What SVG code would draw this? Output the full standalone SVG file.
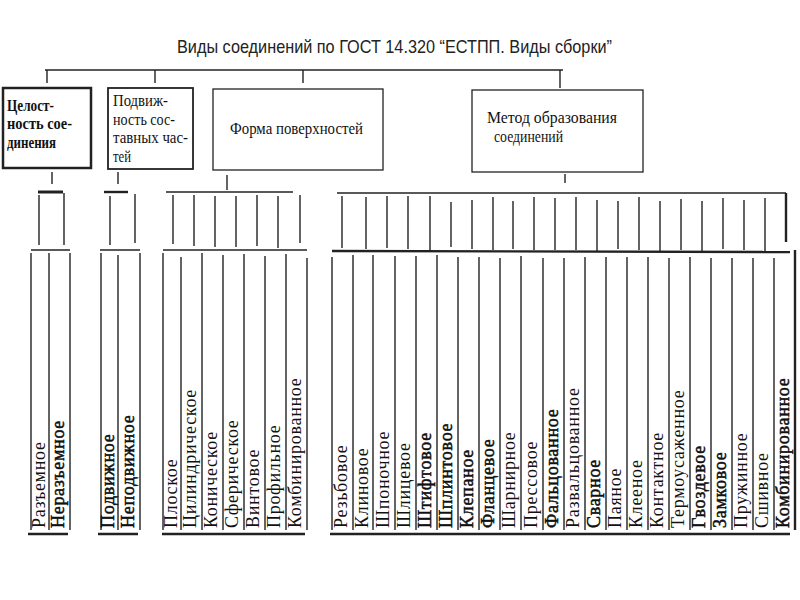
<svg xmlns="http://www.w3.org/2000/svg" width="800" height="600" viewBox="0 0 800 600">
<style>
.title{font-family:"Liberation Sans",Arial,sans-serif;font-size:19px;fill:#222}
.box{fill:none;stroke:#222}
.bt{font-family:"Liberation Serif","DejaVu Serif",serif;font-size:17px;fill:#111}
.bt1{font-family:"Liberation Serif","DejaVu Serif",serif;font-size:16px;font-weight:bold;fill:#111}
.leaf{font-family:"Liberation Serif","DejaVu Serif",serif;font-size:18px;letter-spacing:0.7px;fill:#111}
.b{stroke:#111;stroke-width:0.5px}
.c line{stroke:#222;stroke-width:1.4}
.c .thick{stroke-width:2.4}
.c .bar{stroke-width:3}
</style>
<rect width="800" height="600" fill="#fff"/>
<g id="title">
<text class="title" x="177" y="53" textLength="435" lengthAdjust="spacingAndGlyphs">Виды соединений по ГОСТ 14.320 “ЕСТПП. Виды сборки”</text>
</g>
<g id="box-integrity">
<rect class="box" x="3" y="88" width="88" height="80" stroke-width="2.5"/>
<text class="bt1" x="7" y="111" textLength="47" lengthAdjust="spacingAndGlyphs">Целост-</text>
<text class="bt1" x="7" y="129" textLength="65" lengthAdjust="spacingAndGlyphs">ность сое-</text>
<text class="bt1" x="7" y="148" textLength="49" lengthAdjust="spacingAndGlyphs">динения</text>
</g>
<g id="box-mobility">
<rect class="box" x="108" y="88" width="85" height="81" stroke-width="1.8"/>
<text class="bt" x="113" y="106" textLength="55" lengthAdjust="spacingAndGlyphs">Подвиж-</text>
<text class="bt" x="113" y="125" textLength="62" lengthAdjust="spacingAndGlyphs">ность сос-</text>
<text class="bt" x="113" y="143" textLength="75" lengthAdjust="spacingAndGlyphs">тавных час-</text>
<text class="bt" x="113" y="162" textLength="18" lengthAdjust="spacingAndGlyphs">тей</text>
</g>
<g id="box-surface">
<rect class="box" x="213" y="89" width="170" height="81" stroke-width="1.3"/>
<text class="bt" x="230" y="134" font-size="18" textLength="133" lengthAdjust="spacingAndGlyphs">Форма поверхностей</text>
</g>
<g id="box-method">
<rect class="box" x="472" y="90" width="171" height="82" stroke-width="1.3"/>
<text class="bt" x="487" y="123" textLength="130" lengthAdjust="spacingAndGlyphs">Метод образования</text>
<text class="bt" x="494" y="142" textLength="69" lengthAdjust="spacingAndGlyphs">соединений</text>
</g>
<g id="connectors" class="c">
<line x1="45" y1="70" x2="563" y2="70"/>
<line x1="47" y1="70" x2="47" y2="83"/>
<line x1="155" y1="70" x2="155" y2="83"/>
<line x1="303" y1="70" x2="303" y2="83"/>
<line x1="560" y1="70" x2="560" y2="88"/>
<line x1="52" y1="172" x2="52" y2="184"/>
<line x1="118" y1="172" x2="118" y2="184"/>
<line x1="227" y1="175" x2="227" y2="190"/>
<line x1="565" y1="174" x2="565" y2="183"/>
<line class="bar" x1="38" y1="192" x2="63" y2="192"/>
<line class="thick" x1="104" y1="192" x2="128" y2="192"/>
<line x1="166" y1="192" x2="293" y2="192"/>
<line x1="337" y1="193" x2="786" y2="193"/>
<line x1="39" y1="195" x2="39" y2="245"/>
<line x1="64" y1="193" x2="64" y2="245"/>
<line x1="110" y1="196" x2="110" y2="245"/>
<line x1="135" y1="194" x2="135" y2="243"/>
<line x1="173" y1="195" x2="173" y2="244"/>
<line x1="194" y1="195" x2="194" y2="246"/>
<line x1="215" y1="196" x2="215" y2="247"/>
<line x1="236" y1="196" x2="236" y2="247"/>
<line x1="257" y1="195" x2="257" y2="246"/>
<line x1="278" y1="196" x2="278" y2="248"/>
<line x1="300" y1="195" x2="300" y2="243"/>
<line x1="342" y1="196" x2="342" y2="248"/>
<line x1="366" y1="197" x2="366" y2="249"/>
<line x1="387" y1="196" x2="387" y2="248"/>
<line x1="408" y1="196" x2="408" y2="249"/>
<line x1="430" y1="196" x2="430" y2="250"/>
<line x1="451" y1="202" x2="451" y2="247"/>
<line x1="472" y1="200" x2="472" y2="249"/>
<line x1="493" y1="197" x2="493" y2="250"/>
<line x1="513" y1="201" x2="513" y2="249"/>
<line x1="534" y1="197" x2="534" y2="250"/>
<line x1="555" y1="198" x2="555" y2="250"/>
<line x1="576" y1="197" x2="576" y2="250"/>
<line x1="597" y1="200" x2="597" y2="251"/>
<line x1="618" y1="201" x2="618" y2="249"/>
<line x1="639" y1="197" x2="639" y2="250"/>
<line x1="660" y1="201" x2="660" y2="251"/>
<line x1="681" y1="199" x2="681" y2="250"/>
<line x1="702" y1="201" x2="702" y2="251"/>
<line x1="723" y1="198" x2="723" y2="249"/>
<line x1="744" y1="200" x2="744" y2="250"/>
<line x1="765" y1="198" x2="765" y2="251"/>
<line class="thick" x1="786" y1="193" x2="786" y2="242"/>
<line x1="31" y1="250" x2="70" y2="250"/>
<line x1="100" y1="250" x2="140" y2="250"/>
<line x1="163" y1="250" x2="307" y2="250"/>
<line class="thick" x1="332" y1="251" x2="790" y2="252"/>
<line x1="31" y1="253" x2="31" y2="530"/>
<line x1="49" y1="253" x2="49" y2="530"/>
<line x1="70" y1="253" x2="70" y2="530"/>
<line x1="101" y1="253" x2="101" y2="530"/>
<line x1="118" y1="255" x2="118" y2="530"/>
<line x1="140" y1="253" x2="140" y2="530"/>
<line x1="163" y1="253" x2="163" y2="530"/>
<line x1="181" y1="257" x2="181" y2="530"/>
<line x1="202" y1="253" x2="202" y2="530"/>
<line x1="223" y1="255" x2="223" y2="530"/>
<line x1="244" y1="254" x2="244" y2="530"/>
<line x1="265" y1="256" x2="265" y2="530"/>
<line x1="286" y1="254" x2="286" y2="530"/>
<line x1="307" y1="258" x2="307" y2="530"/>
<line x1="332" y1="257" x2="332" y2="530"/>
<line x1="353" y1="255" x2="353" y2="530"/>
<line x1="373" y1="255" x2="373" y2="530"/>
<line x1="395" y1="256" x2="395" y2="530"/>
<line x1="416" y1="256" x2="416" y2="530"/>
<line x1="437" y1="255" x2="437" y2="530"/>
<line x1="458" y1="257" x2="458" y2="530"/>
<line x1="479" y1="257" x2="479" y2="530"/>
<line x1="500" y1="258" x2="500" y2="530"/>
<line x1="521" y1="256" x2="521" y2="530"/>
<line x1="543" y1="258" x2="543" y2="530"/>
<line x1="564" y1="258" x2="564" y2="530"/>
<line x1="585" y1="257" x2="585" y2="530"/>
<line x1="606" y1="257" x2="606" y2="530"/>
<line x1="627" y1="257" x2="627" y2="530"/>
<line x1="648" y1="257" x2="648" y2="530"/>
<line x1="669" y1="258" x2="669" y2="530"/>
<line x1="690" y1="257" x2="690" y2="530"/>
<line x1="711" y1="258" x2="711" y2="530"/>
<line x1="732" y1="258" x2="732" y2="530"/>
<line x1="753" y1="258" x2="753" y2="530"/>
<line x1="774" y1="258" x2="774" y2="530"/>
<line class="thick" x1="795" y1="250" x2="795" y2="530"/>
<line class="thick" x1="28" y1="534" x2="68" y2="534"/>
<line class="thick" x1="98" y1="534" x2="138" y2="534"/>
<line class="thick" x1="162" y1="534" x2="305" y2="534"/>
<line class="thick" x1="330" y1="534" x2="790" y2="534"/>
</g>
<g id="leaves-integrity" class="leaf">
<text transform="translate(44.5,528) rotate(-90)">Разъемное</text>
<text class="b" transform="translate(64,528) rotate(-90)">Неразъемное</text>
</g>
<g id="leaves-mobility" class="leaf">
<text class="b" transform="translate(114,528) rotate(-90)">Подвижное</text>
<text class="b" transform="translate(133.5,528) rotate(-90)">Неподвижное</text>
</g>
<g id="leaves-surface" class="leaf">
<text transform="translate(176.5,528) rotate(-90)">Плоское</text>
<text transform="translate(196,528) rotate(-90)">Цилиндрическое</text>
<text transform="translate(217,528) rotate(-90)">Коническое</text>
<text transform="translate(238,528) rotate(-90)">Сферическое</text>
<text transform="translate(259,528) rotate(-90)">Винтовое</text>
<text transform="translate(280,528) rotate(-90)">Профильное</text>
<text transform="translate(301,528) rotate(-90)">Комбинированное</text>
</g>
<g id="leaves-method" class="leaf">
<text transform="translate(347,528) rotate(-90)">Резьбовое</text>
<text transform="translate(367.5,528) rotate(-90)">Клиновое</text>
<text transform="translate(388.5,528) rotate(-90)">Шпоночное</text>
<text transform="translate(410,528) rotate(-90)">Шлицевое</text>
<text class="b" transform="translate(431,528) rotate(-90)">Штифтовое</text>
<text class="b" transform="translate(452,528) rotate(-90)">Шплинтовое</text>
<text class="b" transform="translate(473,528) rotate(-90)">Клепаное</text>
<text class="b" transform="translate(494,528) rotate(-90)">Фланцевое</text>
<text transform="translate(515,528) rotate(-90)">Шарнирное</text>
<text transform="translate(536.5,528) rotate(-90)">Прессовое</text>
<text class="b" transform="translate(558,528) rotate(-90)">Фальцованное</text>
<text transform="translate(579,528) rotate(-90)">Развальцованное</text>
<text class="b" transform="translate(600,528) rotate(-90)">Сварное</text>
<text transform="translate(621,528) rotate(-90)">Паяное</text>
<text transform="translate(642,528) rotate(-90)">Клееное</text>
<text transform="translate(663,528) rotate(-90)">Контактное</text>
<text transform="translate(684,528) rotate(-90)">Термоусаженное</text>
<text class="b" transform="translate(705,528) rotate(-90)">Гвоздевое</text>
<text class="b" transform="translate(726,528) rotate(-90)">Замковое</text>
<text transform="translate(747,528) rotate(-90)">Пружинное</text>
<text transform="translate(768,528) rotate(-90)">Сшивное</text>
<text class="b" transform="translate(789,528) rotate(-90)">Комбинированное</text>
</g>
</svg>
